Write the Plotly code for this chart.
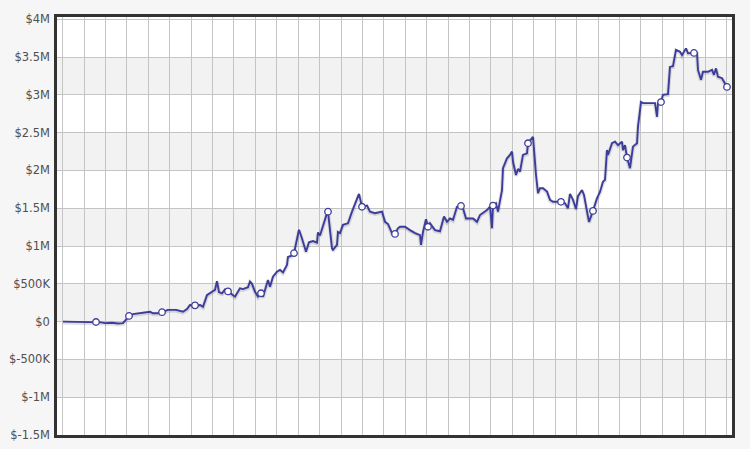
import plotly.graph_objects as go

# trading-day index and equity value (in $K)
day = [0, 17, 33, 38, 42, 49, 55, 60, 62, 66, 70, 75, 80, 87, 90, 95, 99, 105, 113, 120,
       124, 127, 132, 137, 140, 144, 149, 152, 154, 156, 159, 162, 165, 169, 172, 177, 180, 185, 187, 189,
       192, 195, 198, 200, 204, 205, 207, 210, 214, 217, 220, 224, 225, 228, 231, 233, 236, 239, 243, 246,
       250, 254, 255, 257, 260, 264, 265, 269, 270, 274, 275, 277, 280, 285, 289, 292, 296, 299, 304, 307,
       312, 319, 322, 325, 329, 332, 335, 337, 342, 347, 352, 357, 358, 360, 363, 365, 367, 372, 377, 381,
       384, 387, 390, 394, 398, 400, 403, 410, 414, 417, 420, 424, 427, 429, 430, 433, 435, 437, 439, 440,
       444, 447, 449, 450, 453, 455, 457, 460, 464, 465, 469, 470, 473, 475, 477, 480, 484, 487, 490, 498,
       502, 505, 507, 510, 513, 515, 519, 521, 525, 526, 530, 532, 534, 537, 540, 542, 544, 545, 549, 552,
       555, 559, 560, 562, 564, 567, 570, 574, 575, 578, 580, 592, 594, 595, 598, 600, 605, 607, 610, 613,
       617, 619, 623, 625, 631, 634, 635, 638, 640, 645, 649, 651, 653, 655, 659, 662, 664]
equity_k = [0, -5, -5, -10, -20, -15, -25, -20, 10, 75, 100, 110, 125, 130, 110, 110, 125, 155, 155, 130,
            165, 220, 215, 220, 195, 350, 395, 420, 535, 390, 375, 425, 400, 365, 330, 440, 430, 455, 530, 500,
            395, 330, 375, 330, 505, 550, 460, 595, 660, 685, 650, 750, 855, 870, 905, 1040, 1215, 1100, 925, 1050,
            1065, 1045, 1180, 1140, 1280, 1435, 1455, 970, 950, 1015, 1185, 1170, 1280, 1300, 1455, 1565, 1690, 1520, 1535, 1455,
            1435, 1455, 1320, 1290, 1170, 1160, 1235, 1255, 1255, 1210, 1170, 1145, 1015, 1185, 1355, 1255, 1300, 1210, 1195, 1390,
            1320, 1365, 1345, 1520, 1530, 1500, 1365, 1365, 1320, 1410, 1435, 1475, 1520, 1235, 1535, 1565, 1455, 1620, 1740, 2030,
            2160, 2205, 2250, 2115, 1940, 2020, 1985, 2205, 2225, 2360, 2425, 2445, 1940, 1700, 1765, 1765, 1720, 1610, 1585, 1585,
            1565, 1500, 1690, 1610, 1490, 1660, 1740, 1675, 1390, 1320, 1465, 1565, 1630, 1715, 1850, 1875, 2270, 2205, 2360, 2380,
            2335, 2380, 2270, 2335, 2170, 2030, 2315, 2360, 2580, 2905, 2890, 2890, 2710, 2890, 2905, 3000, 3010, 3370, 3380, 3595,
            3570, 3525, 3615, 3550, 3555, 3555, 3330, 3200, 3305, 3305, 3330, 3265, 3350, 3240, 3220, 3155, 3105]
marker_days = [33, 66, 99, 132, 165, 198, 231, 265, 299, 332, 365, 398, 430, 465, 498, 530, 564, 598, 631, 664]

tick_vals = [-1500, -1000, -500, 0, 500, 1000, 1500, 2000, 2500, 3000, 3500, 4000]
tick_text = ["$-1.5M", "$-1M", "$-500K", "$0", "$500K", "$1M", "$1.5M", "$2M", "$2.5M", "$3M", "$3.5M", "$4M"]

marker_vals = [equity_k[day.index(d)] for d in marker_days]

LINE = "#3c3c9c"
BG = "#f6f6f6"

fig = go.Figure()
# soft shadow
fig.add_trace(go.Scatter(x=day, y=[v - 12 for v in equity_k], mode="lines",
                         line=dict(color="rgba(0,0,0,0.12)", width=4), hoverinfo="skip"))
fig.add_trace(go.Scatter(x=day, y=equity_k, mode="lines", line=dict(color=LINE, width=1.9)))
fig.add_trace(go.Scatter(x=marker_days, y=marker_vals, mode="markers",
                         marker=dict(size=6.5, color="white", line=dict(color=LINE, width=1.3))))

# alternating horizontal bands (every other interval between ticks)
shapes = []
for i in range(1, len(tick_vals) - 1, 2):
    shapes.append(dict(type="rect", xref="paper", yref="y", x0=0, x1=1,
                       y0=tick_vals[i], y1=tick_vals[i + 1],
                       fillcolor="#f2f2f2", line=dict(width=0), layer="below"))

fig.update_layout(
    width=750, height=449,
    margin=dict(l=57, r=18, t=17, b=14),
    paper_bgcolor=BG,
    plot_bgcolor="white",
    showlegend=False,
    shapes=shapes,
    font=dict(family="DejaVu Sans", size=11.5, color="#505050"),
)
fig.update_xaxes(range=[-6, 669], tick0=21, dtick=21.42, showticklabels=False, automargin=False,
                 showgrid=True, gridcolor="#c4c4c4", gridwidth=1, zeroline=False,
                 showline=True, linecolor="#333333", linewidth=2.5, mirror=True, ticks="")
fig.update_yaxes(range=[-1500, 4030], tickvals=tick_vals, ticktext=tick_text, automargin=False,
                 ticklabelstandoff=2,
                 showgrid=True, gridcolor="#c4c4c4", gridwidth=1, zeroline=False,
                 showline=True, linecolor="#333333", linewidth=2.5, mirror=True, ticks="")

fig.write_html("out.html", config={"displayModeBar": False},
               post_script="document.body.style.margin='0';document.body.style.background='%s';" % BG)
